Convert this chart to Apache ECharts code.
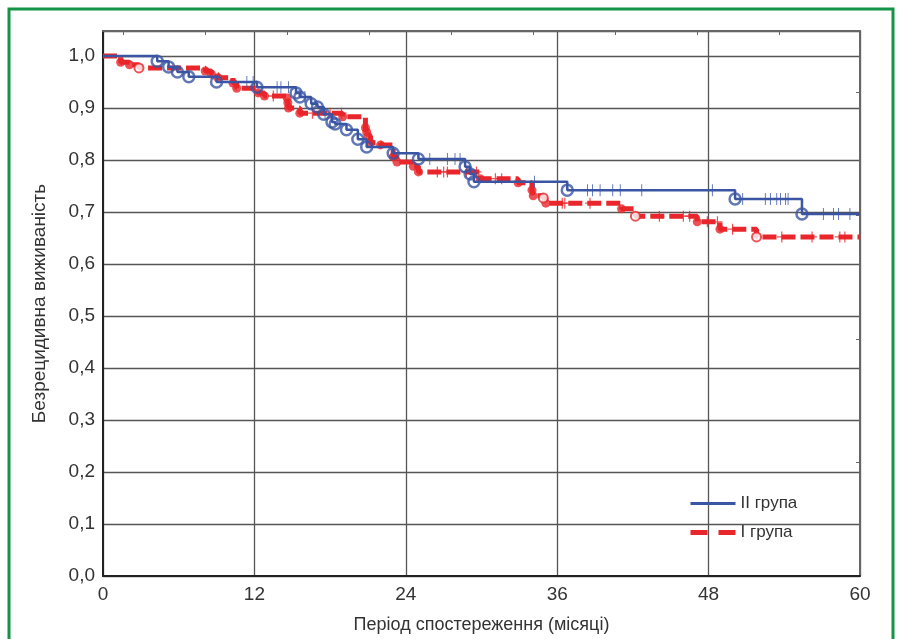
<!DOCTYPE html>
<html>
<head>
<meta charset="utf-8">
<script src="https://cdn.jsdelivr.net/npm/echarts@6/dist/echarts.min.js"></script>
<style>
html,body{margin:0;padding:0;background:#fff;}
#chart{width:899px;height:639px;}
</style>
</head>
<body>
<div id="chart"></div>
<script>
// ---- Data ----
const xTicks = [0, 12, 24, 36, 48, 60];
const seriesNames = ['II група', 'I група'];

// II група (blue): event times and survival after each drop
const blueT = [0, 4.3, 5.2, 5.9, 6.8, 9.0, 12.2, 15.3, 15.6, 16.5, 17.0, 17.5, 18.15, 18.4, 19.3, 20.2, 20.9, 23.0, 25.0, 28.7, 29.1, 29.4, 36.8, 50.1, 55.4];
const blueS = [1.0, 0.990, 0.979, 0.969, 0.960, 0.950, 0.940, 0.929, 0.921, 0.908, 0.902, 0.888, 0.873, 0.869, 0.858, 0.840, 0.825, 0.813, 0.802, 0.787, 0.773, 0.758, 0.742, 0.725, 0.696];
// II група censored observations
const blueCensT = [11.4, 11.9, 13.8, 14.1, 14.7, 16.0, 17.6, 25.9, 27.3, 27.9, 28.3, 34.2, 38.4, 38.8, 39.4, 40.4, 41.0, 42.7, 48.3, 50.7, 52.5, 52.9, 53.4, 53.7, 54.1, 54.3, 57.1, 57.9, 58.3, 59.2];
const blueCensS = [0.950, 0.950, 0.940, 0.940, 0.940, 0.921, 0.888, 0.802, 0.802, 0.802, 0.802, 0.758, 0.742, 0.742, 0.742, 0.742, 0.742, 0.742, 0.742, 0.725, 0.725, 0.725, 0.725, 0.725, 0.725, 0.725, 0.696, 0.696, 0.696, 0.696];

// I група (red): event times and survival after each drop
const redT = [0, 1.4, 2.1, 2.85, 8.1, 8.6, 9.1, 10.3, 10.6, 12.3, 12.8, 14.6, 14.65, 14.7, 15.6, 19.0, 20.8, 20.9, 21.0, 21.2, 22.0, 23.0, 23.3, 24.6, 25.0, 29.9, 32.9, 34.0, 34.1, 34.9, 35.1, 41.1, 42.2, 47.1, 48.9, 51.8];
const redS = [1.0, 0.988, 0.983, 0.977, 0.971, 0.965, 0.958, 0.948, 0.938, 0.929, 0.923, 0.919, 0.910, 0.900, 0.890, 0.883, 0.862, 0.854, 0.846, 0.833, 0.829, 0.806, 0.796, 0.788, 0.777, 0.764, 0.756, 0.742, 0.731, 0.727, 0.717, 0.706, 0.692, 0.681, 0.667, 0.652];
// event markers drawn as open circles (others filled)
const redOpenT = [2.85, 34.9, 42.2, 51.8];
// I група censored observations
const redCensT = [13.5, 16.6, 18.0, 18.9, 26.5, 27.0, 27.3, 28.8, 29.6, 31.1, 31.6, 36.4, 36.6, 38.6, 44.1, 46.0, 46.5, 47.9, 48.7, 49.9, 53.8, 56.2, 58.4, 58.8];
const redCensS = [0.923, 0.890, 0.890, 0.890, 0.777, 0.777, 0.777, 0.777, 0.777, 0.764, 0.764, 0.717, 0.717, 0.717, 0.692, 0.692, 0.692, 0.681, 0.681, 0.667, 0.652, 0.652, 0.652, 0.652];

// ---- Build option ----
const xMax = 60;
const blueLine = blueT.map((t, i) => [t, blueS[i]]).concat([[xMax, blueS[blueS.length - 1]]]);
const redLine = redT.map((t, i) => [t, redS[i]]).concat([[xMax, redS[redS.length - 1]]]);
const blueEvents = blueT.slice(1).map((t, i) => [t, blueS[i + 1]]);
const redFilled = [], redOpen = [];
redT.forEach((t, i) => { if (i === 0) return; (redOpenT.indexOf(t) >= 0 ? redOpen : redFilled).push([t, redS[i]]); });
const blueCens = blueCensT.map((t, i) => [t, blueCensS[i]]);
const redCens = redCensT.map((t, i) => [t, redCensS[i]]);

const BLUE = '#3a55a4';
const RED = '#e8262b';
const plus = 'path://M4.4,0 L5.6,0 L5.6,4.4 L10,4.4 L10,5.6 L5.6,5.6 L5.6,10 L4.4,10 L4.4,5.6 L0,5.6 L0,4.4 L4.4,4.4 Z';
const labelFont = "'Liberation Sans', Arial, sans-serif";

const chart = echarts.init(document.getElementById('chart'), null, {renderer: 'canvas'});
chart.setOption({
  animation: false,
  backgroundColor: '#fff',
  graphic: [{
    type: 'rect', z: -10,
    shape: {x: 9, y: 9, width: 884, height: 700},
    style: {fill: '#fff', stroke: '#149447', lineWidth: 3}
  }],
  grid: {left: 103, right: 39, top: 31, bottom: 63, containLabel: false},
  legend: {
    orient: 'vertical', left: 683, top: 490, itemWidth: 45, itemHeight: 12, itemGap: 12,
    textStyle: {fontSize: 17, color: '#333', fontFamily: labelFont},
    itemStyle: {color: 'rgba(0,0,0,0)', borderWidth: 0, opacity: 0},
    data: [
      {name: 'II група', lineStyle: {width: 3}},
      {name: 'I група', lineStyle: {type: [17, 11], width: 5}}
    ]
  },
  xAxis: [{
    type: 'value', min: 0, max: xMax, interval: 12, position: 'bottom',
    name: 'Період спостереження (місяці)', nameLocation: 'middle', nameGap: 40,
    nameTextStyle: {fontSize: 18, color: '#333', fontFamily: labelFont},
    axisLine: {lineStyle: {color: '#222', width: 2}},
    axisTick: {show: false},
    axisLabel: {fontSize: 19, color: '#333', margin: 9, fontFamily: labelFont,
      formatter: v => xTicks.indexOf(v) >= 0 ? String(v) : ''},
    splitLine: {show: true, lineStyle: {color: '#555', width: 1.3}}
  }, {
    type: 'value', min: 0, max: xMax, position: 'top',
    axisLine: {show: true, onZero: false, lineStyle: {color: '#666', width: 2}},
    axisTick: {show: true, inside: true, length: 4, lineStyle: {color: '#666'},
      customValues: [1.6, 8.1, 14.6, 21.1, 27.6, 34.1, 40.6, 47.1, 53.6]},
    axisLabel: {show: false},
    splitLine: {show: false}
  }],
  yAxis: [{
    type: 'value', min: 0, max: 1.048, interval: 0.1,
    name: 'Безрецидивна виживаність', nameLocation: 'middle', nameGap: 54,
    nameTextStyle: {fontSize: 19, color: '#333', fontFamily: labelFont},
    axisLine: {show: true, lineStyle: {color: '#222', width: 2}},
    axisTick: {show: false},
    axisLabel: {fontSize: 19, color: '#333', margin: 8, fontFamily: labelFont,
      formatter: v => v > 1.001 ? '' : v.toFixed(1).replace('.', ',')},
    splitLine: {show: true, lineStyle: {color: '#555', width: 1.3}}
  }, {
    type: 'value', min: 0, max: 1.048, position: 'right',
    axisLine: {show: true, onZero: false, lineStyle: {color: '#666', width: 2}},
    axisTick: {show: true, inside: true, length: 4, lineStyle: {color: '#666'},
      customValues: [0.931, 0.694, 0.456, 0.219]},
    axisLabel: {show: false},
    splitLine: {show: false}
  }],
  series: [
    {
      name: 'I група', type: 'line', step: 'end', data: redLine, symbol: 'none',
      lineStyle: {color: RED, width: 5, type: [14, 5]}, itemStyle: {color: RED}, z: 3
    },
    {
      name: 'redFilled', type: 'scatter', data: redFilled, symbol: 'circle', symbolSize: 9,
      itemStyle: {color: RED}, z: 4, silent: true
    },
    {
      name: 'redOpen', type: 'scatter', data: redOpen, symbol: 'circle', symbolSize: 9,
      itemStyle: {color: '#fff', borderColor: RED, borderWidth: 2}, z: 4, silent: true
    },
    {
      name: 'redCens', type: 'scatter', data: redCens, symbol: plus, symbolSize: [10, 11],
      itemStyle: {color: RED}, z: 4, silent: true
    },
    {
      name: 'II група', type: 'line', step: 'end', data: blueLine, symbol: 'none',
      lineStyle: {color: BLUE, width: 2.5}, itemStyle: {color: BLUE}, z: 5
    },
    {
      name: 'blueEvents', type: 'scatter', data: blueEvents, symbol: 'circle', symbolSize: 11,
      itemStyle: {color: 'rgba(255,255,255,0)', borderColor: BLUE, borderWidth: 2.5}, z: 6, silent: true
    },
    {
      name: 'blueCens', type: 'scatter', data: blueCens, symbol: plus, symbolSize: [8, 12],
      itemStyle: {color: BLUE}, z: 6, silent: true
    }
  ]
});
</script>
</body>
</html>
